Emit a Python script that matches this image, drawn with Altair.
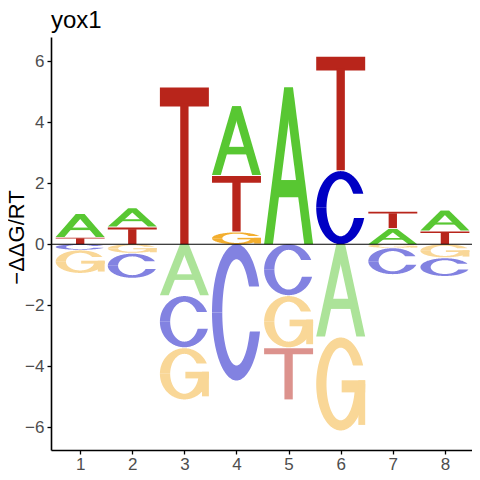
import numpy as np
import pandas as pd
import altair as alt

# ---- data ----
positions = [1, 1, 1, 1,
             2, 2, 2, 2,
             3, 3, 3, 3,
             4, 4, 4, 4,
             5, 5, 5, 5,
             6, 6, 6, 6,
             7, 7, 7, 7,
             8, 8, 8, 8]
letters = ["T", "A", "C", "G",
           "T", "A", "G", "C",
           "T", "A", "C", "G",
           "G", "T", "A", "C",
           "A", "C", "G", "T",
           "C", "T", "A", "G",
           "A", "T", "G", "C",
           "T", "A", "G", "C"]
values = [0.24, 0.78, -0.20, -0.77,
          0.58, 0.62, -0.31, -0.82,
          5.17, -1.70, -1.71, -1.71,
          0.42, 1.85, 2.29, -4.50,
          5.17, -1.70, -1.71, -1.71,
          2.43, 3.75, -3.06, -3.08,
          0.53, 0.57, -0.13, -0.88,
          0.45, 0.68, -0.46, -0.61]
x_ticks = [1, 2, 3, 4, 5, 6, 7, 8]
y_ticks = [-6, -4, -2, 0, 2, 4, 6]
title_text = "yox1"
y_title = "−ΔΔG/RT"

color_keys = ["A+", "C+", "G+", "T+", "A-", "C-", "G-", "T-"]
color_vals = ["#58C732", "#0000C4", "#F3AE2E", "#B8251B",
              "#ACE399", "#8282E1", "#F9D797", "#DC928D"]

# ---- glyph outlines in a unit box (x-slices: x, low, high) ----
RXI, RYI = 0.29, 0.39


def outer(x):
    return 0.5 * np.sqrt(np.clip(1 - ((x - 0.5) / 0.5) ** 2, 0, None))


def inner(x):
    return RYI * np.sqrt(np.clip(1 - ((x - 0.5) / RXI) ** 2, 0, None))


def samples(xend):
    xs = 0.5 - 0.5 * np.cos(np.linspace(0, np.pi, 81))
    xs2 = 0.5 - RXI * np.cos(np.linspace(0, np.pi, 41))
    xs = np.unique(np.concatenate([xs, xs2, [xend]]))
    return xs[xs <= xend + 1e-12]


def upper_arc(yu):
    xend = 0.5 + 0.5 * np.sqrt(1 - ((yu - 0.5) / 0.5) ** 2)
    xs = samples(xend)
    hi = 0.5 + outer(xs)
    lo = 0.5 + inner(xs)
    lo = np.where(xs > 0.5, np.maximum(lo, yu), lo)
    lo = np.minimum(lo, hi)
    return (xs, lo, hi)


def lower_arc(yl):
    if yl is None:
        xs = samples(1.0)
    else:
        xend = 0.5 + 0.5 * np.sqrt(1 - ((0.5 - yl) / 0.5) ** 2)
        xs = samples(xend)
    lo = 0.5 - outer(xs)
    hi = 0.5 - inner(xs)
    if yl is not None:
        hi = np.where(xs > 0.5, np.minimum(hi, yl), hi)
    hi = np.maximum(hi, lo)
    return (xs, lo, hi)


def box(x0, x1, y0, y1):
    return (np.array([x0, x1]), np.array([y0, y0]), np.array([y1, y1]))


def glyph(letter):
    if letter == "A":
        a, t = 0.41, 0.18
        xs = np.array([0, t, a, a + t])
        lo = np.array([0, 0, (a - t) / a, 1])
        hi = np.array([0, t / a, 1, 1])
        return [(xs, lo, hi), (1 - xs[::-1], lo[::-1], hi[::-1]),
                box(0.25, 0.75, 0.30, 0.41)]
    if letter == "T":
        return [box(0.0, 1.0, 0.88, 1.0), box(0.415, 0.585, 0.0, 0.9)]
    if letter == "C":
        return [upper_arc(0.69), lower_arc(0.36)]
    if letter == "G":
        return [upper_arc(0.70), lower_arc(None),
                box(0.52, 1.0, 0.41, 0.54), box(0.86, 1.0, 0.06, 0.54)]
    return []


HW = 0.47
rows = []
cum = {}
for i, (p, L, v) in enumerate(zip(positions, letters, values)):
    sign = 1 if v >= 0 else -1
    key = (p, sign)
    base = cum.get(key, 0.0)
    h = abs(v)
    cum[key] = base + h
    gap = min(0.03, 0.1 * h)
    if sign > 0:
        y0, y1 = base, base + h - gap
    else:
        y0, y1 = -(base + h) + gap, -base
    ck = L + ("+" if sign > 0 else "-")
    for j, (gx, glo, ghi) in enumerate(glyph(L)):
        X = p - HW + 2 * HW * gx
        for xx, a_, b_ in zip(X, y0 + (y1 - y0) * glo, y0 + (y1 - y0) * ghi):
            rows.append({"x": float(xx), "ylo": float(a_), "yhi": float(b_),
                         "grp": f"g{i}_{j}", "key": ck})

df = pd.DataFrame(rows)

FONT = "Liberation Sans"
xscale = alt.Scale(domain=[0.44, 8.52], nice=False, zero=False)
yscale = alt.Scale(domain=[-6.75, 6.8], nice=False, zero=False)

logo = alt.Chart(df).mark_area(interpolate="linear", strokeWidth=0).encode(
    x=alt.X("x:Q", scale=xscale,
            axis=alt.Axis(values=x_ticks, title=None, grid=False,
                          domainColor="black", domainWidth=1.6,
                          tickColor="black", tickWidth=1.3, tickSize=4,
                          labelColor="#4D4D4D", labelFontSize=17,
                          labelFont=FONT, labelPadding=2)),
    y=alt.Y("ylo:Q", scale=yscale, stack=False,
            axis=alt.Axis(values=y_ticks, title=y_title, grid=False,
                          domainColor="black", domainWidth=1.6,
                          tickColor="black", tickWidth=1.3, tickSize=4,
                          labelColor="#4D4D4D", labelFontSize=17,
                          labelFont=FONT, labelPadding=3,
                          titleFont=FONT, titleFontSize=22,
                          titleFontWeight="normal", titleColor="black",
                          titleAngle=270, titleX=-28, titleY=200,
                          titleAlign="center", titleBaseline="alphabetic")),
    y2="yhi:Q",
    detail="grp:N",
    color=alt.Color("key:N", scale=alt.Scale(domain=color_keys, range=color_vals),
                    legend=None),
)

zero_line = alt.Chart(pd.DataFrame({"y": [0]})).mark_rule(
    color="black", strokeWidth=1.1).encode(y=alt.Y("y:Q", scale=yscale))

title = alt.Chart(pd.DataFrame({"t": [title_text]})).mark_text(
    align="left", baseline="alphabetic", font=FONT, fontSize=24,
    color="black").encode(x=alt.value(0), y=alt.value(-9), text="t:N")

chart = alt.layer(logo, zero_line, title).properties(
    width=421, height=413,
    padding={"left": 43, "top": 29, "right": 0, "bottom": 22},
    autosize="none",
).configure_view(strokeWidth=0)

chart.save("out.html", embed_options={"renderer": "svg", "actions": False})
